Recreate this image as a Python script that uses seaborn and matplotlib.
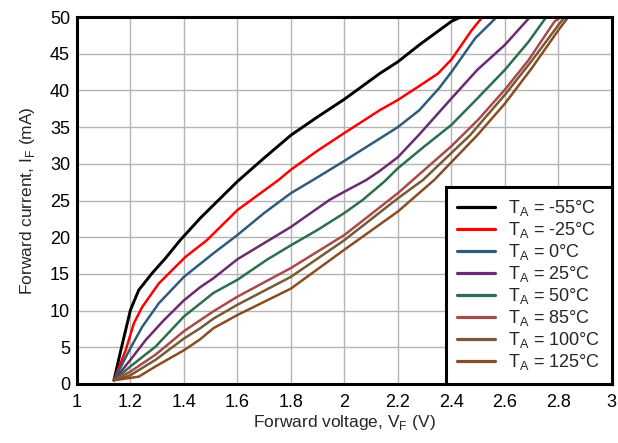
import pandas as pd
import matplotlib
matplotlib.use('Agg')
import matplotlib.pyplot as plt
import seaborn as sns

"""
Forward current vs forward voltage of an LED at several ambient
temperatures (datasheet style chart).
"""

labels = ['-55', '-25', '0', '25', '50', '85', '100', '125']
colors = ['#000000', '#FF0000', '#2D5D7B', '#6A2C6C', '#2B6F4E',
          '#A9494A', '#765A36', '#8A4D22']

v_m55 = [1.138, 1.164, 1.2, 1.231, 1.281, 1.33, 1.386, 1.461, 1.6, 1.7,
         1.8, 1.9, 2.0, 2.132, 2.2, 2.28, 2.4, 2.435]
i_m55 = [0.5, 4.6, 10.1, 12.8, 15.1, 17.1, 19.6, 22.6, 27.6, 30.8,
         33.9, 36.4, 38.8, 42.3, 43.9, 46.2, 49.4, 50.0]

v_m25 = [1.138, 1.182, 1.213, 1.244, 1.306, 1.405, 1.486, 1.6, 1.754, 1.8,
         1.9, 2.0, 2.132, 2.2, 2.28, 2.35, 2.4, 2.44, 2.476, 2.516]
i_m25 = [0.5, 4.6, 8.3, 10.5, 13.7, 17.3, 19.6, 23.7, 27.8, 29.2,
         31.8, 34.2, 37.3, 38.7, 40.6, 42.3, 44.2, 46.3, 48.2, 50.0]

v_0 = [1.138, 1.2, 1.244, 1.306, 1.4, 1.51, 1.6, 1.7, 1.8, 1.883,
       2.0, 2.1, 2.2, 2.28, 2.354, 2.4, 2.489, 2.57]
i_0 = [0.5, 4.9, 7.8, 11.0, 14.6, 17.8, 20.3, 23.3, 26.0, 27.8,
       30.4, 32.7, 35.0, 37.3, 40.3, 42.5, 47.1, 50.0]

v_25 = [1.138, 1.2, 1.257, 1.325, 1.4, 1.461, 1.51, 1.6, 1.7, 1.8,
        1.945, 2.0, 2.082, 2.131, 2.2, 2.28, 2.4, 2.497, 2.6, 2.694]
i_25 = [0.5, 3.3, 6.0, 8.7, 11.4, 13.2, 14.4, 17.0, 19.2, 21.4,
        25.1, 26.2, 27.8, 29.0, 30.9, 34.0, 38.9, 42.8, 46.2, 50.0]

v_50 = [1.138, 1.2, 1.294, 1.4, 1.51, 1.6, 1.709, 1.8, 1.9, 2.0,
        2.069, 2.15, 2.2, 2.3, 2.4, 2.497, 2.6, 2.688, 2.755]
i_50 = [0.5, 2.4, 5.1, 9.2, 12.4, 14.2, 16.9, 18.9, 21.0, 23.3,
        25.1, 27.6, 29.4, 32.4, 35.3, 38.9, 42.8, 46.6, 50.0]

v_85 = [1.138, 1.2, 1.294, 1.4, 1.461, 1.51, 1.6, 1.8, 2.0, 2.2,
        2.256, 2.4, 2.5, 2.6, 2.688, 2.786, 2.81]
i_85 = [0.5, 1.7, 4.0, 7.2, 8.7, 9.9, 11.9, 15.8, 20.3, 26.0,
        27.8, 32.4, 36.0, 40.1, 44.1, 49.4, 50.0]

v_100 = [1.138, 1.2, 1.294, 1.4, 1.461, 1.51, 1.6, 1.8, 2.0, 2.2,
         2.294, 2.47, 2.6, 2.7, 2.8, 2.824]
i_100 = [0.5, 1.2, 3.3, 6.2, 7.6, 8.9, 10.8, 14.6, 19.6, 25.3,
         27.8, 33.9, 39.4, 44.0, 48.9, 50.0]

v_125 = [1.138, 1.231, 1.294, 1.4, 1.461, 1.51, 1.6, 1.8, 2.0, 2.2,
         2.336, 2.497, 2.6, 2.7, 2.8, 2.837]
i_125 = [0.5, 1.0, 2.4, 4.6, 6.1, 7.6, 9.4, 13.0, 18.3, 23.5,
         27.8, 33.9, 38.2, 43.0, 48.2, 50.0]

x_ticks = [1, 1.2, 1.4, 1.6, 1.8, 2, 2.2, 2.4, 2.6, 2.8, 3]
y_ticks = [0, 5, 10, 15, 20, 25, 30, 35, 40, 45, 50]


def build_frame():
    volts = [v_m55, v_m25, v_0, v_25, v_50, v_85, v_100, v_125]
    amps = [i_m55, i_m25, i_0, i_25, i_50, i_85, i_100, i_125]
    frames = []
    for t, v, i in zip(labels, volts, amps):
        name = r'T$_\mathregular{A}$ = ' + t + '°C'
        frames.append(pd.DataFrame({'V': v, 'I': i, 'T': name}))
    return pd.concat(frames, ignore_index=True)


def main():
    sns.set_style('white')
    plt.rcParams['font.family'] = ['Liberation Sans', 'DejaVu Sans']
    plt.rcParams['mathtext.fontset'] = 'custom'
    plt.rcParams['mathtext.rm'] = 'Liberation Sans'

    df = build_frame()
    names = list(dict.fromkeys(df['T']))

    fig = plt.figure(figsize=(6.18, 4.43), dpi=100)
    ax = fig.add_axes([0.1246, 0.1332, 0.8654, 0.8284])
    sns.lineplot(data=df, x='V', y='I', hue='T', hue_order=names,
                 palette=colors, sort=False, estimator=None, units='T',
                 linewidth=1.8, ax=ax)
    # black curve is drawn a bit heavier in the reference
    ax.lines[0].set_linewidth(2.1)

    ax.set_xlim(1, 3)
    ax.set_ylim(0, 50)
    ax.set_xticks(x_ticks)
    ax.set_xticklabels([f'{v:g}' for v in x_ticks])
    ax.set_yticks(y_ticks)
    ax.grid(True, color='#B4B4B4', linewidth=1.0)
    ax.tick_params(length=0, labelsize=13, colors='black')
    ax.tick_params(axis='x', pad=7)
    ax.tick_params(axis='y', pad=5)
    for s in ax.spines.values():
        s.set_visible(True)
        s.set_color('black')
        s.set_linewidth(2.2)

    ax.set_xlabel(r'Forward voltage, V$_\mathregular{F}$ (V)', fontsize=12.5,
                  labelpad=2)
    ax.set_ylabel(r'Forward current, I$_\mathregular{F}$ (mA)',
                  fontsize=12.5, labelpad=9)

    leg = ax.legend(loc='lower right', fontsize=13, frameon=True,
                    fancybox=False, framealpha=1, borderaxespad=0,
                    handlelength=2.1, labelspacing=0.11,
                    borderpad=0.65, handletextpad=0.7)
    leg.get_frame().set_edgecolor('black')
    leg.get_frame().set_linewidth(2.2)
    for h in leg.get_lines():
        h.set_linewidth(2.3)

    fig.savefig('out.png', dpi=100)


if __name__ == '__main__':
    main()
